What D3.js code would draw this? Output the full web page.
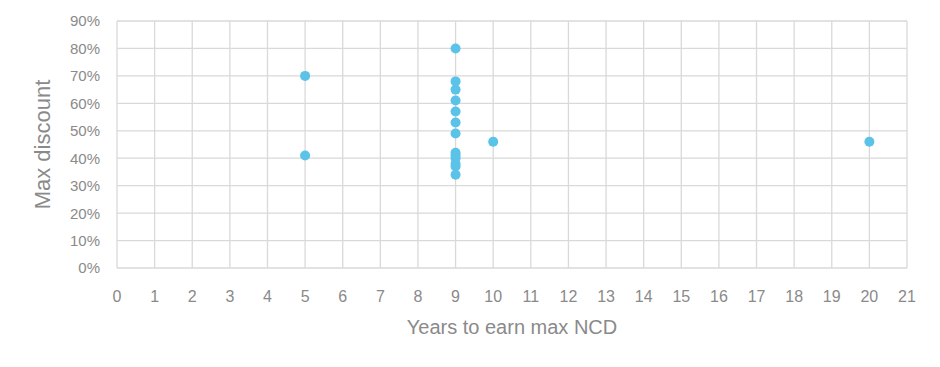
<!DOCTYPE html>
<html><head><meta charset="utf-8">
<script src="https://cdn.jsdelivr.net/npm/d3@7"></script>
<style>
body{margin:0;background:#fff;}
text{font-family:"Liberation Sans",sans-serif;}
</style></head>
<body><svg id="c" width="940" height="367"></svg>
<script>
const xValues = [5, 5, 9, 9, 9, 9, 9, 9, 9, 9, 9, 9, 9, 9, 9, 10, 20];
const yValues = [0.70, 0.41, 0.80, 0.68, 0.65, 0.61, 0.57, 0.53, 0.49, 0.42, 0.41, 0.40, 0.38, 0.37, 0.34, 0.46, 0.46];
const xTicks = d3.range(0, 22);
const yTicks = d3.range(0, 10).map(d => d / 10);
const xTitle = "Years to earn max NCD";
const yTitle = "Max discount";

const svg = d3.select("#c");
const L = 117, R = 907, T = 21, B = 268;
const x = d3.scaleLinear().domain([0, 21]).range([L, R]);
const y = d3.scaleLinear().domain([0, 0.9]).range([B, T]);
const grid = "#d9d9d9", txt = "#8a8a8a";

svg.append("g").selectAll("line").data(yTicks).join("line")
  .attr("x1", L).attr("x2", R).attr("y1", d => y(d)).attr("y2", d => y(d))
  .attr("stroke", grid).attr("stroke-width", 1.3);
svg.append("g").selectAll("line").data(xTicks).join("line")
  .attr("y1", T).attr("y2", B).attr("x1", d => x(d)).attr("x2", d => x(d))
  .attr("stroke", grid).attr("stroke-width", 1.3);

svg.append("g").selectAll("text").data(yTicks).join("text")
  .attr("x", 100).attr("y", d => y(d)).attr("dy", "0.36em")
  .attr("text-anchor", "end").attr("fill", txt).attr("font-size", 15)
  .text(d => d3.format(".0%")(d));
svg.append("g").selectAll("text").data(xTicks).join("text")
  .attr("x", d => x(d)).attr("y", 302)
  .attr("text-anchor", "middle").attr("fill", txt).attr("font-size", 16)
  .text(d => d);

svg.append("text").attr("x", 512).attr("y", 334).attr("text-anchor", "middle")
  .attr("fill", txt).attr("font-size", 20).text(xTitle);
svg.append("text").attr("transform", `translate(50,${(T + B) / 2}) rotate(-90)`)
  .attr("text-anchor", "middle").attr("fill", txt).attr("font-size", 22).text(yTitle);

svg.append("g").selectAll("circle").data(xValues.map((d, i) => [d, yValues[i]])).join("circle")
  .attr("cx", d => x(d[0])).attr("cy", d => y(d[1])).attr("r", 5)
  .attr("fill", "#5bc2e8");
</script></body></html>
